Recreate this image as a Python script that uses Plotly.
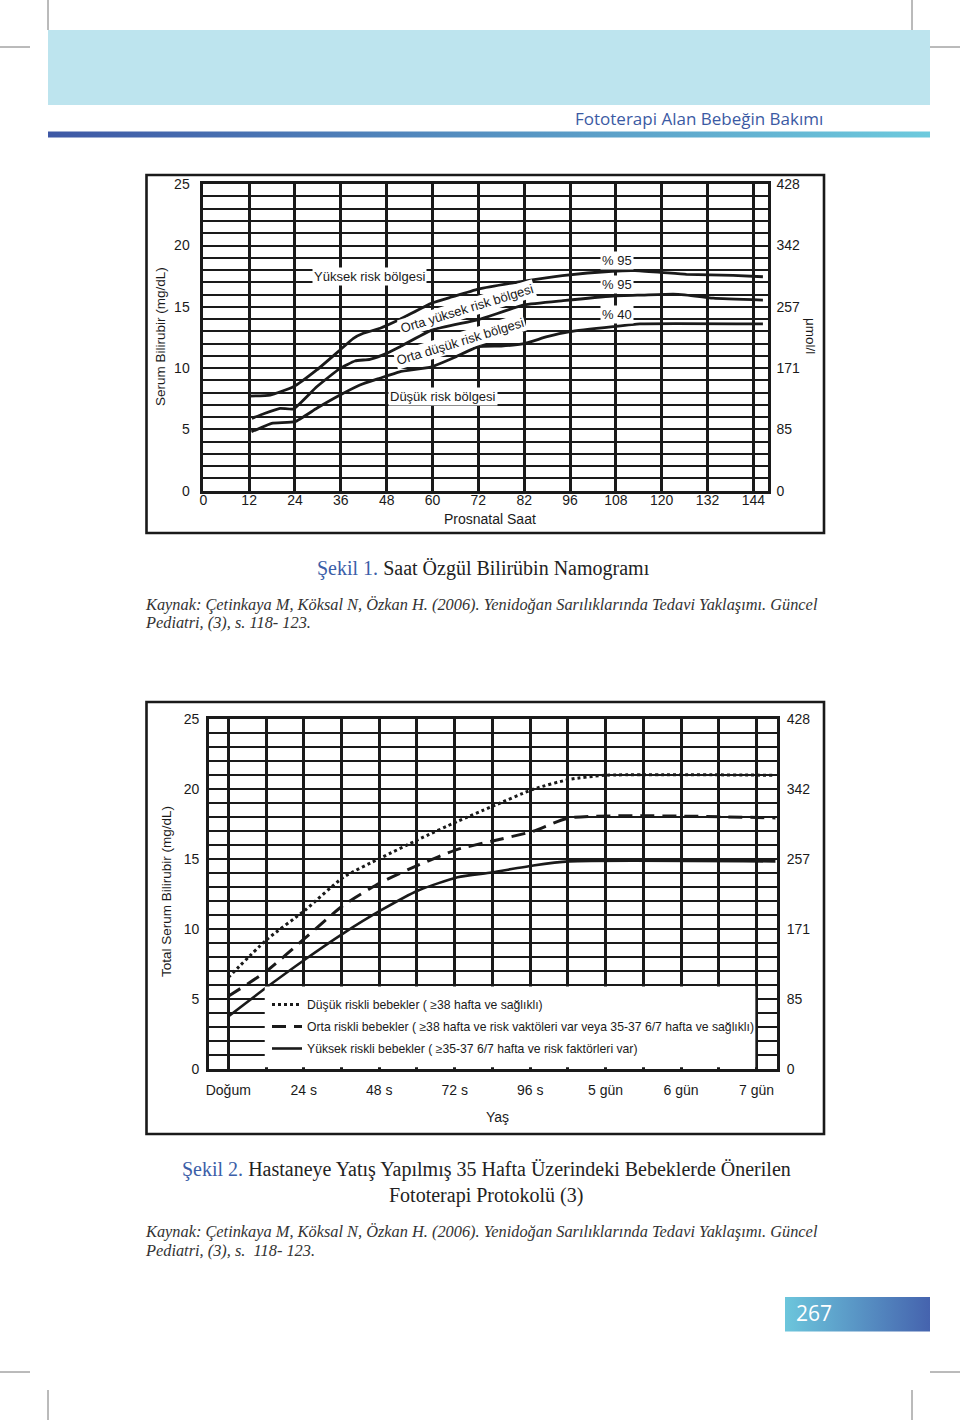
import plotly.graph_objects as go

W, H = 960, 1420

# ---- Şekil 1: saat özgül bilirübin nomogramı (postnatal saat, mg/dL) ----
saat_p95 = [12, 17.5, 23.6, 29.7, 35.8, 39.3, 41.9, 46.3, 51.5, 59.8, 65, 72, 84, 94, 107, 113, 120, 126.5, 138.7, 146.5]
bili_p95 = [7.72, 7.8, 8.48, 9.85, 11.48, 12.43, 12.84, 13.25, 13.98, 15.3, 15.8, 16.45, 17.1, 17.55, 17.9, 17.95, 17.8, 17.65, 17.57, 17.45]
saat_p75 = [12.7, 16, 20.1, 23.6, 29.7, 35.8, 39.7, 43.6, 48, 51.5, 59.8, 72, 84, 94.2, 107.3, 115, 123, 126, 133.5, 146.5]
bili_p75 = [5.9, 6.3, 6.72, 6.66, 8.48, 9.98, 10.58, 10.72, 11.2, 11.75, 13.1, 13.95, 15.15, 15.5, 15.88, 15.96, 16.04, 15.98, 15.7, 15.55]
saat_p40 = [12.6, 17.9, 24, 29.7, 35.8, 41, 46.2, 51.4, 59.8, 66, 72, 78, 84, 90, 96, 107.3, 114.3, 146.5]
bili_p40 = [4.8, 5.5, 5.63, 6.72, 7.8, 8.62, 9.17, 9.7, 10.1, 10.9, 11.75, 11.8, 12.0, 12.56, 12.97, 13.38, 13.6, 13.6]

saat_tick = [0, 12, 24, 36, 48, 60, 72, 84, 96, 108, 120, 132, 144]
saat_etiket = ["0", "12", "24", "36", "48", "60", "72", "82", "96", "108", "120", "132", "144"]
mg_tick = [0, 5, 10, 15, 20, 25]
umol_etiket = ["0", "85", "171", "257", "342", "428"]

# ---- Şekil 2: fototerapi protokolü (yaş saat, mg/dL) ----
yas_dusuk = [0, 12.2, 24.4, 36.6, 48.6, 60.4, 72.9, 83.7, 97, 108.4, 120.3, 174]
tsb_dusuk = [6.54, 9.24, 11.35, 13.7, 15.1, 16.4, 17.7, 18.75, 20.0, 20.7, 21.0, 21.0]
yas_orta = [0, 12.2, 24.4, 36.6, 48.6, 60.4, 72.9, 83.7, 97, 108.4, 174]
tsb_orta = [5.2, 7.0, 9.36, 11.7, 13.35, 14.57, 15.7, 16.28, 17.0, 17.95, 17.95]
yas_yuksek = [0, 12.2, 24.4, 36.6, 48.6, 60.4, 72.9, 83.7, 97, 108.4, 174]
tsb_yuksek = [3.75, 5.84, 7.83, 9.7, 11.35, 12.76, 13.7, 14.05, 14.55, 14.84, 14.84]

yas_tick = list(range(0, 169, 12))
yas_etiket = ["Doğum", "", "24 s", "", "48 s", "", "72 s", "", "96 s", "", "5 gün", "", "6 gün", "", "7 gün"]

grup_adlari = [
    "Düşük riskli bebekler ( ≥38 hafta ve sağlıklı)",
    "Orta riskli bebekler ( ≥38 hafta ve risk vaktöleri var veya 35-37 6/7 hafta ve sağlıklı)",
    "Yüksek riskli bebekler ( ≥35-37 6/7 hafta ve risk faktörleri var)",
]

SANS = "Liberation Sans, Arial, sans-serif"
SERIF = "Liberation Serif, Times New Roman, serif"
INK = "#1a1a1a"


def px(x):
    return x / W


def py(y):
    return 1 - y / H


fig = go.Figure()

# eğriler - şekil 1
for xs, ys in [(saat_p95, bili_p95), (saat_p75, bili_p75), (saat_p40, bili_p40)]:
    fig.add_trace(go.Scatter(
        x=xs, y=ys, mode="lines", xaxis="x", yaxis="y",
        line=dict(color=INK, width=2.8, shape="spline", smoothing=0.4),
        showlegend=False, hoverinfo="skip",
    ))

# eğriler - şekil 2
stiller = [("3px,3px", 3), ("14px,8px", 3), ("solid", 2.6)]
for i, ((xs, ys), ad, (dash, lw)) in enumerate(zip(
    [(yas_dusuk, tsb_dusuk), (yas_orta, tsb_orta), (yas_yuksek, tsb_yuksek)], grup_adlari, stiller
)):
    fig.add_trace(go.Scatter(
        x=xs, y=ys, mode="lines", xaxis="x2", yaxis="y2", name=ad, legendgroup=f"g{i}",
        line=dict(color=INK, width=lw, dash=dash, shape="spline", smoothing=0.6),
        hoverinfo="skip",
    ))

# sağ (μmol/l) eksenlerin çizilmesi için boş izler
for ya, xa in [("y3", "x"), ("y4", "x2")]:
    fig.add_trace(go.Scatter(x=[None], y=[None], xaxis=xa, yaxis=ya, showlegend=False, hoverinfo="skip"))

# sayfa süslemeleri için piksel ekseni (degrade bantlar)
for (x0, x1, y0, y1, c0, c1) in [
    (48, 930, 131.5, 137.5, "#3e58a5", "#6dcadd"),
    (785, 930, 1297, 1331.5, "#6cc6dc", "#4563ae"),
]:
    fig.add_trace(go.Scatter(
        x=[x0, x1, x1, x0, x0], y=[y0, y0, y1, y1, y0], mode="lines", fill="toself",
        line=dict(width=0), fillgradient=dict(type="horizontal", colorscale=[[0, c0], [1, c1]]),
        xaxis="x5", yaxis="y5", showlegend=False, hoverinfo="skip",
    ))

grid_ax = dict(showline=True, mirror=True, linecolor=INK, zeroline=False, ticks="",
               gridcolor=INK, tickfont=dict(family=SANS, size=14, color=INK), fixedrange=True)
right_ax = dict(side="right", range=[0, 25], tickvals=mg_tick, ticktext=umol_etiket,
                showgrid=False, zeroline=False, showline=False, ticks="",
                tickfont=dict(family=SANS, size=14, color=INK), fixedrange=True)

fig.update_layout(
    width=W, height=H, margin=dict(l=0, r=0, t=0, b=0, autoexpand=False),
    paper_bgcolor="white", plot_bgcolor="rgba(0,0,0,0)",
    xaxis=dict(grid_ax, domain=[px(203.3), px(767.5)], range=[0, 147.7], anchor="y",
               tickvals=saat_tick, ticktext=saat_etiket, gridwidth=2.8, linewidth=2.6,
               ticklabelstandoff=-5),
    yaxis=dict(grid_ax, domain=[py(490.7), py(184.2)], range=[0, 25], anchor="x",
               tickvals=mg_tick, gridwidth=2.4, linewidth=2.6, ticklabelstandoff=8,
               minor=dict(dtick=1, showgrid=True, gridcolor=INK, gridwidth=1.5)),
    yaxis3=dict(right_ax, overlaying="y", anchor="x", ticklabelstandoff=8),
    xaxis2=dict(grid_ax, domain=[px(209), px(776.7)], range=[-6.13, 174.4], anchor="y2",
                tickvals=yas_tick, ticktext=yas_etiket, gridwidth=2.6, linewidth=2.6,
                ticklabelstandoff=6),
    yaxis2=dict(grid_ax, domain=[py(1069), py(719.3)], range=[0, 25], anchor="x2",
                tickvals=mg_tick, gridwidth=2.2, linewidth=2.6, ticklabelstandoff=4,
                minor=dict(dtick=1, showgrid=True, gridcolor=INK, gridwidth=2.2)),
    yaxis4=dict(right_ax, overlaying="y2", anchor="x2", ticklabelstandoff=9),
    xaxis5=dict(domain=[0, 1], range=[0, W], visible=False, anchor="y5", fixedrange=True),
    yaxis5=dict(domain=[0, 1], range=[H, 0], visible=False, anchor="x5", fixedrange=True),
    legend=dict(x=px(267), y=py(990), xanchor="left", yanchor="top",
                bgcolor="rgba(0,0,0,0)", font=dict(family=SANS, size=12.2, color=INK),
                tracegroupgap=3, itemwidth=30),
    showlegend=True,
)

shapes = []
# kırpma işaretleri
for x0, y0, x1, y1 in [(48, 0, 48, 30), (912, 0, 912, 30), (0, 47, 30, 47), (930, 47, 960, 47),
                       (0, 1372, 30, 1372), (930, 1372, 960, 1372), (48, 1390, 48, 1420), (912, 1390, 912, 1420)]:
    shapes.append(dict(type="line", xref="paper", yref="paper", x0=px(x0), y0=py(y0), x1=px(x1), y1=py(y1),
                       line=dict(color="#777777", width=1)))
# başlık bandı
shapes.append(dict(type="rect", xref="paper", yref="paper", x0=px(48), x1=px(930), y0=py(105), y1=py(30),
                   fillcolor="#bde4ee", line=dict(width=0), layer="below"))
# grafik çerçeveleri
for y0, y1 in [(175, 533), (702, 1134)]:
    shapes.append(dict(type="rect", xref="paper", yref="paper", x0=px(146.5), x1=px(824), y0=py(y1), y1=py(y0),
                       line=dict(color=INK, width=2.6), fillcolor="rgba(0,0,0,0)"))
# şekil 2 açıklama kutusu
shapes.append(dict(type="rect", xref="x2", yref="y2", x0=11.6, x1=167.6, y0=0.12, y1=5.9,
                   fillcolor="white", line=dict(width=0), layer="above"))
fig.update_layout(shapes=shapes)

ann = []


def metin(x, y, t, size=14, family=SANS, color=INK, angle=0, xanchor="center", **kw):
    ann.append(dict(x=px(x), y=py(y), xref="paper", yref="paper", text=t, showarrow=False,
                    textangle=angle, xanchor=xanchor, yanchor="middle",
                    font=dict(family=family, size=size, color=color), **kw))


def bolge(x, y, t, angle=0):
    ann.append(dict(x=x, y=y, xref="x", yref="y", text=t, showarrow=False, textangle=angle,
                    bgcolor="white", borderpad=1, font=dict(family=SANS, size=13, color=INK)))


# şekil 1 bölge etiketleri
bolge(43.6, 17.5, "Yüksek risk bölgesi")
bolge(69, 14.85, "Orta yüksek risk bölgesi", -17)
bolge(67.2, 12.2, "Orta düşük risk bölgesi", -17)
bolge(62.8, 7.67, "Düşük risk bölgesi")
bolge(108.3, 18.76, "% 95")
bolge(108.3, 16.78, "% 95")
bolge(108.3, 14.41, "% 40")

# eksen başlıkları
metin(160, 337, "Serum Bilirubir (mg/dL)", size=13.5, angle=-90)
metin(811, 336, "μmol/l", size=13.5, angle=90)
metin(490, 519, "Prosnatal Saat", size=14)
metin(166, 892, "Total Serum Bilirubir (mg/dL)", size=13.5, angle=-90)
metin(497, 1117, "Yaş", size=14)

# sayfa metinleri
metin(825, 118, "Fototerapi Alan Bebeğin Bakımı", size=17, family="Open Sans, Noto Sans, sans-serif",
      color="#3b5aa3", xanchor="right")
metin(483, 568, "<span style='color:#3b5ea8'>Şekil 1.</span> Saat Özgül Bilirübin Namogramı",
      size=20, family=SERIF, color="#222222")
metin(143, 604, "<i>Kaynak: Çetinkaya M, Köksal N, Özkan H. (2006). Yenidoğan Sarılıklarında Tedavi Yaklaşımı. Güncel</i>",
      size=16.35, family=SERIF, color="#333333", xanchor="left")
metin(143, 622, "<i>Pediatri, (3), s. 118- 123.</i>", size=16.35, family=SERIF, color="#333333", xanchor="left")
metin(486, 1169, "<span style='color:#3b5ea8'>Şekil 2.</span> Hastaneye Yatış Yapılmış 35 Hafta Üzerindeki Bebeklerde Önerilen",
      size=20, family=SERIF, color="#222222")
metin(486, 1195, "Fototerapi Protokolü (3)", size=20, family=SERIF, color="#222222")
metin(143, 1231, "<i>Kaynak: Çetinkaya M, Köksal N, Özkan H. (2006). Yenidoğan Sarılıklarında Tedavi Yaklaşımı. Güncel</i>",
      size=16.35, family=SERIF, color="#333333", xanchor="left")
metin(143, 1250, "<i>Pediatri, (3), s.  118- 123.</i>", size=16.35, family=SERIF, color="#333333", xanchor="left")
metin(794, 1313, "267", size=21, family="Open Sans, Noto Sans, sans-serif", color="white", xanchor="left")

fig.update_layout(annotations=ann)

fig.write_html("out.html", config={"displayModeBar": False},
               post_script="document.body.style.margin='0';")
